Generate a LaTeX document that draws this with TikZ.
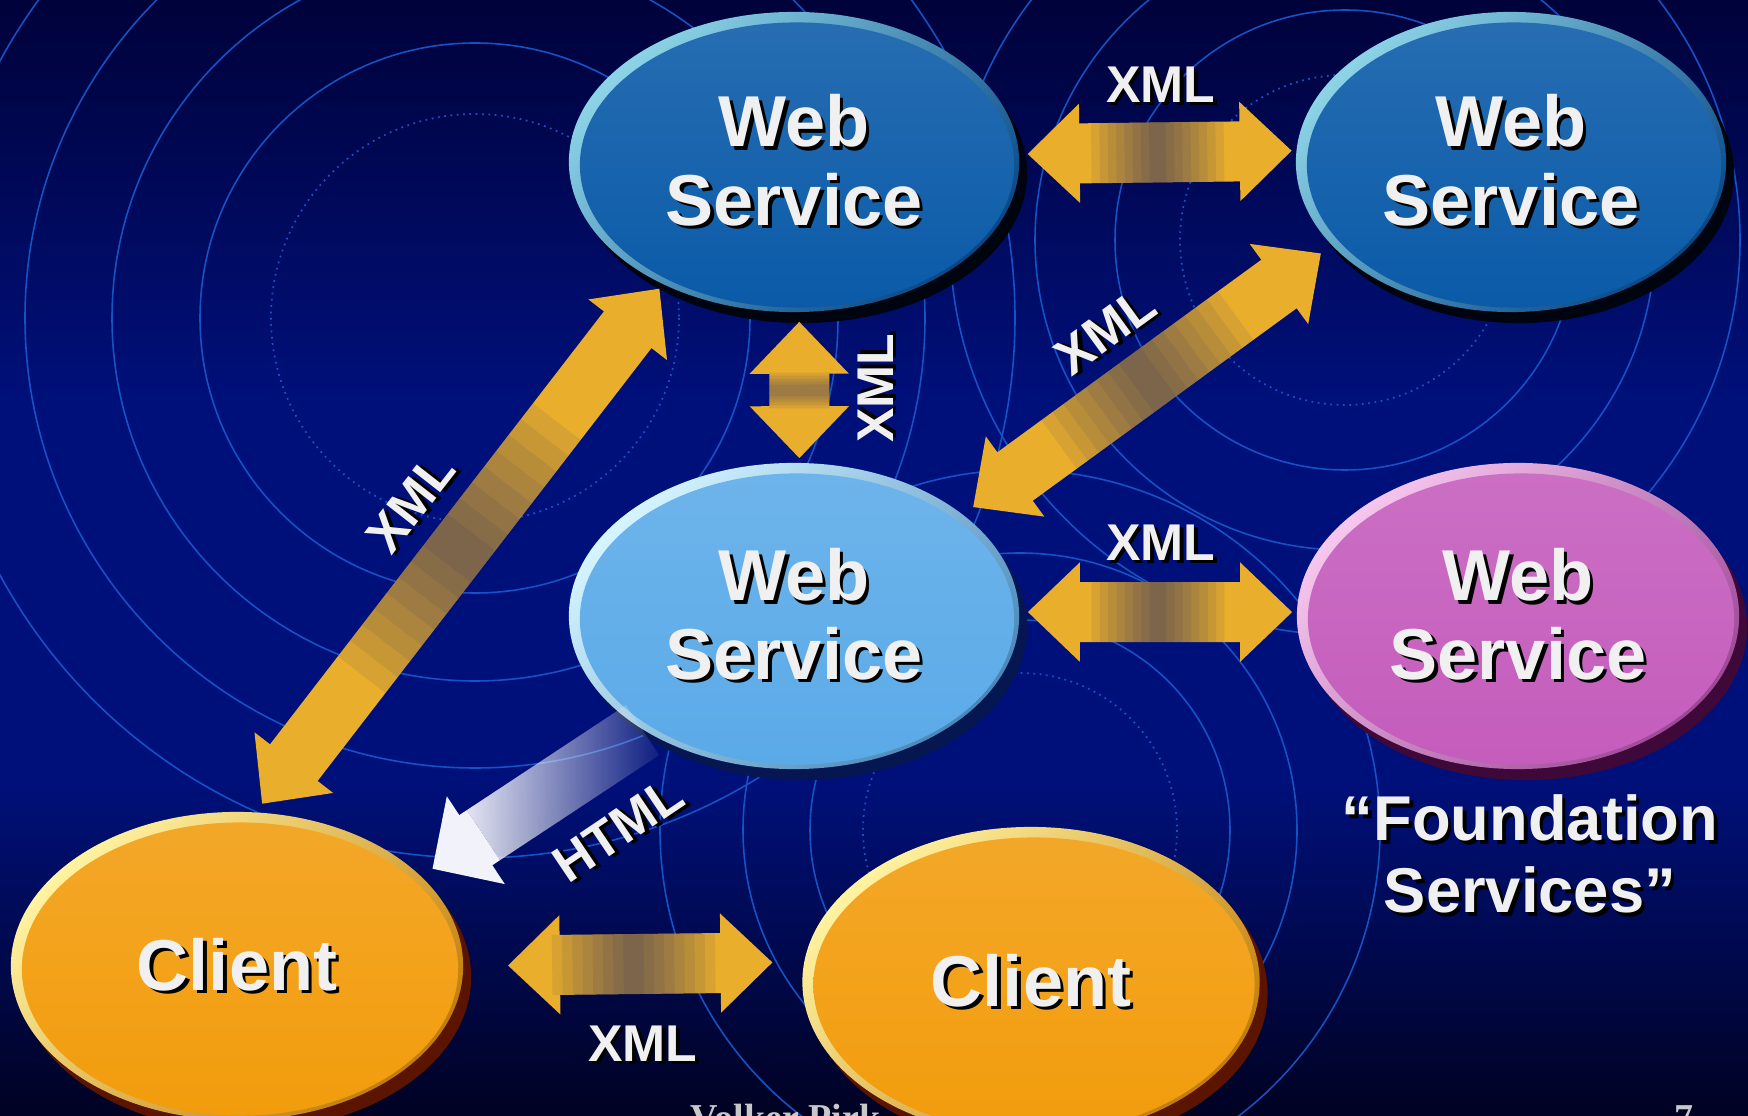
\documentclass[tikz,border=0pt]{standalone}
\usepackage{fontspec}
\setmainfont{Liberation Sans}
\newfontfamily\footfont{Liberation Serif}
\usetikzlibrary{arrows.meta,shadows,fadings,calc,shapes.geometric}

\definecolor{bgtop}{HTML}{00023A}
\definecolor{bgmid}{HTML}{00107A}
\definecolor{bgbot}{HTML}{000222}
\definecolor{ringblue}{HTML}{1652C4}
\definecolor{xmlgold}{HTML}{E8AE2C}
\definecolor{htmlwhite}{HTML}{F2F2FA}
\definecolor{labelwhite}{HTML}{F0F0F0}
\definecolor{footgrey}{HTML}{C8C8C8}
\definecolor{wsrim}{HTML}{8CD3E6}
\definecolor{wsface}{HTML}{0A5AA8}
\definecolor{wsedge}{HTML}{00040F}
\definecolor{hubrim}{HTML}{D4F4FF}
\definecolor{hubface}{HTML}{5AAAE8}
\definecolor{hubedge}{HTML}{061650}
\definecolor{baserim}{HTML}{F6C6EE}
\definecolor{baseface}{HTML}{C45CBC}
\definecolor{baseedge}{HTML}{3E0838}
\definecolor{clrim}{HTML}{FFF2A0}
\definecolor{clface}{HTML}{F29C0C}
\definecolor{cledge}{HTML}{5A1400}

\newcommand{\dropped}[1]{\leavevmode\rlap{\hspace{0.35mm}\raisebox{-0.35mm}{\color{black}#1}}#1}

\tikzfading[name=htmlfade, left color=transparent!0, middle color=transparent!45, right color=transparent!100]

\tikzset{
	disc/.style n args={3}{ellipse, inner sep=0pt, align=center, text=labelwhite,
		font=\bfseries\fontsize{20.5}{22.2}\selectfont,
		general shadow={fill=#3, shadow xshift=0.8mm, shadow yshift=-1.1mm},
		top color=#1, bottom color=#2!80!black, shading angle=45,
		path picture={
			\shade[top color=#2!88!white, bottom color=#2]
				let \p1=($(path picture bounding box.north east)-(path picture bounding box.center)$) in
				([xshift=0.3mm,yshift=-0.3mm]path picture bounding box.center)
				ellipse [x radius=\x1-0.8mm, y radius=\y1-0.75mm];
		}},
	ring/.style={draw=ringblue, line width=0.45pt},
	ringdots/.style={draw=ringblue, line width=0.5pt, dash pattern=on 0.5pt off 1.3pt},
	tag/.style={text=labelwhite, inner sep=0pt, font=\bfseries\fontsize{14.7}{16}\selectfont},
	xmlarrow/.style={draw=xmlgold, line width=0.6cm,
		{Triangle[length=0.52cm,width=0.96cm]}-{Triangle[length=0.52cm,width=0.96cm]}},
	dimmer/.style={draw=bgmid, line width=0.6cm, draw opacity=0.07},
	htmlshaft/.style={draw=htmlwhite, line width=0.6cm, path fading=htmlfade},
	htmlhead/.style={draw=htmlwhite, line width=0.6cm, -{Triangle[length=0.52cm,width=1.02cm]}}
}

\begin{document}
\begin{tikzpicture}[x=0.01cm, y=-0.01cm]
	\useasboundingbox (0,0) rectangle (1748,1116);
	\shade[top color=bgtop, bottom color=bgmid] (0,0) rectangle (1748,401);
	\fill[bgmid] (0,400) rectangle (1748,781);
	\shade[top color=bgmid, bottom color=bgbot] (0,780) rectangle (1748,1116);

	% rings in the background
	\draw[ringdots] (475,318) circle [radius=204];
	\foreach \r in {275,363,450,540}
		\draw[ring] (475,318) circle [radius=\r];
	\draw[ringdots] (1345,240) circle [radius=165];
	\foreach \r in {230,310,395}
		\draw[ring] (1345,240) circle [radius=\r];
	\draw[ringdots] (1020,830) circle [radius=157];
	\foreach \r in {210,277,360}
		\draw[ring] (1020,830) circle [radius=\r];

	\node[anchor=base west, inner sep=0pt, text=footgrey, font=\footfont\bfseries\fontsize{10.8}{12}\selectfont] (foot) at (690,1130) {Volker Pirk};
	\node[anchor=base, inner sep=0pt, text=footgrey, font=\footfont\bfseries\fontsize{10.8}{12}\selectfont] (page) at (1684,1130) {7};

	% services and clients
	\node[disc={wsrim}{wsface}{wsedge}, minimum width=4.5cm, minimum height=3.0cm] (wsTop) at (794,162) {\dropped{Web}\\\dropped{Service}};
	\node[disc={wsrim}{wsface}{wsedge}, minimum width=4.3cm, minimum height=3.0cm] (wsRight) at (1511,162) {\dropped{Web}\\\dropped{Service}};
	\node[disc={hubrim}{hubface}{hubedge}, minimum width=4.5cm, minimum height=3.06cm] (wsHub) at (794,616) {\dropped{Web}\\\dropped{Service}};
	\node[disc={baserim}{baseface}{baseedge}, minimum width=4.42cm, minimum height=3.06cm] (wsBase) at (1518,616) {\dropped{Web}\\\dropped{Service}};
	\node[disc={clrim}{clface}{cledge}, minimum width=4.52cm, minimum height=3.08cm] (clientL) at (237,966) {\dropped{Client}};
	\node[disc={clrim}{clface}{cledge}, minimum width=4.57cm, minimum height=3.1cm] (clientR) at (1031,982) {\dropped{Client}};

	% connectors
	\draw[xmlarrow, shorten <=0.08cm, shorten >=0.04cm] (wsTop.2.5) -- (wsRight.177.5);
	\draw[xmlarrow, shorten <=0.09cm, shorten >=0.04cm] (wsTop.-88) -- (wsHub.88);
	\draw[xmlarrow, shorten <=0.12cm, shorten >=0.13cm] (wsHub.31.5) -- (wsRight.205);
	\draw[xmlarrow, shorten <=0.1cm, shorten >=0.05cm] (clientL.83) -- (wsTop.223);
	\draw[xmlarrow, shorten <=0.08cm, shorten >=0.04cm] (wsHub.1) -- (wsBase.179);
	\draw[xmlarrow, shorten <=0.44cm, shorten >=0.31cm] (clientL.0) -- (clientR.175);
	% darker middle of the gold arrows
	\foreach \from/\to in {wsTop.2.5/wsRight.177.5, wsHub.31.5/wsRight.205, clientL.83/wsTop.223, wsHub.1/wsBase.179, clientL.0/clientR.175}
		\foreach \s in {0.26,0.29,0.32,0.35,0.38,0.41,0.44,0.47}
			\draw[dimmer] ($(\from)!\s!(\to)$) -- ($(\from)!{1-\s}!(\to)$);
	\foreach \s in {0.40,0.42,0.44,0.46,0.48}
		\draw[dimmer] ($(wsTop.-88)!\s!(wsHub.88)$) -- ($(wsTop.-88)!{1.04-\s}!(wsHub.88)$);
	\coordinate (htmlBend) at ($(wsHub.217)!0.72!(clientL.26)$);
	\draw[htmlshaft] (wsHub.217) -- (htmlBend);
	\draw[htmlhead, shorten >=0.13cm] (htmlBend) -- (clientL.26);

	% labels
	\node[tag] (xmlTop) at (1161,86) {\dropped{XML}};
	\node[tag] (xmlMid) at (1161,544) {\dropped{XML}};
	\node[tag] (xmlLow) at (643,1045) {\dropped{XML}};
	\node[tag, rotate=90] (xmlUp) at (877,388) {\dropped{XML}};
	\node[tag, rotate=36] (xmlDiag) at (1106,332) {\dropped{XML}};
	\node[tag, rotate=52] (xmlLeft) at (412,504) {\dropped{XML}};
	\node[tag, rotate=34] (htmlTag) at (619,831) {\dropped{HTML}};
	\node[tag, align=center, font=\bfseries\fontsize{18}{20.5}\selectfont] (foundTag) at (1530,856) {\dropped{“Foundation}\\\dropped{Services”}};
\end{tikzpicture}
\end{document}
